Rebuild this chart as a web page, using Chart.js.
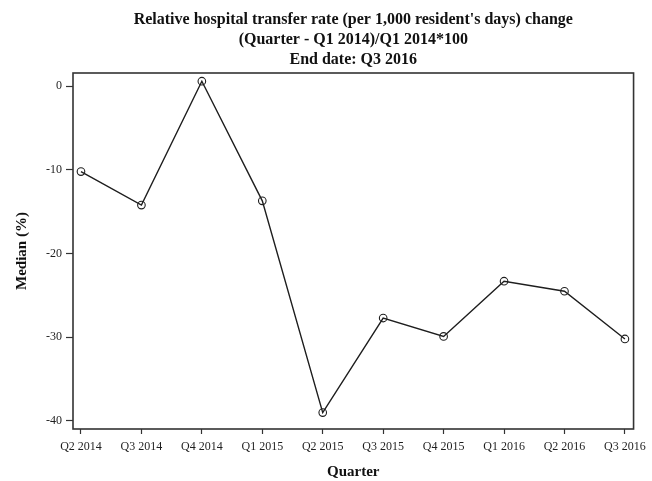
<!DOCTYPE html>
<html>
<head>
<meta charset="utf-8">
<script src="https://cdn.jsdelivr.net/npm/chart.js@4/dist/chart.umd.min.js"></script>
<style>
  html, body { margin: 0; padding: 0; background: #fff; }
  #wrap { width: 652px; height: 481px; }
</style>
</head>
<body>
<div id="wrap"><canvas id="chart" width="652" height="481"></canvas></div>
<script>
// Quarters on the x axis
const quarters = ['Q2 2014', 'Q3 2014', 'Q4 2014', 'Q1 2015', 'Q2 2015',
                  'Q3 2015', 'Q4 2015', 'Q1 2016', 'Q2 2016', 'Q3 2016'];
// Median relative change (%) of hospital transfer rate versus Q1 2014
const medianChange = [-10.2, -14.2, 0.6, -13.7, -39.0, -27.7, -29.9, -23.3, -24.5, -30.2];
// Labelled y ticks
const yTicks = [0, -10, -20, -30, -40];
const titleLines = [
  "Relative hospital transfer rate (per 1,000 resident's days) change",
  '(Quarter - Q1 2014)/Q1 2014*100',
  'End date: Q3 2016'
];

const SERIF = '"Liberation Serif", "Times New Roman", serif';
const INK = '#1e1e1e';

const points = quarters.map((q, i) => ({ x: i, y: medianChange[i] }));

// Three-line heading centred over the plot, plus the box around the plot area
const framePlugin = {
  id: 'frameAndHeading',
  afterDraw(chart) {
    const { ctx, chartArea: a } = chart;
    ctx.save();
    ctx.strokeStyle = '#333';
    ctx.lineWidth = 1.6;
    ctx.strokeRect(a.left, a.top, a.right - a.left, a.bottom - a.top);
    ctx.fillStyle = '#111';
    ctx.font = 'bold 16px ' + SERIF;
    ctx.textAlign = 'center';
    ctx.textBaseline = 'middle';
    const cx = (a.left + a.right) / 2;
    const ys = [20, 40, 60];
    titleLines.forEach((t, i) => ctx.fillText(t, cx, ys[i]));
    ctx.restore();
  }
};

new Chart(document.getElementById('chart'), {
  type: 'line',
  data: {
    datasets: [{
      data: points,
      borderColor: INK,
      borderWidth: 1.4,
      pointRadius: 3.8,
      pointHoverRadius: 3.8,
      pointBorderWidth: 1.1,
      pointBorderColor: INK,
      pointBackgroundColor: 'rgba(0,0,0,0)',
      tension: 0,
      fill: false
    }]
  },
  options: {
    responsive: false,
    animation: false,
    devicePixelRatio: 1,
    layout: { padding: { top: 73, right: 16, left: 0, bottom: 0 } },
    plugins: {
      legend: { display: false },
      tooltip: { enabled: false },
      title: { display: false }
    },
    scales: {
      x: {
        type: 'linear',
        min: -0.132,
        max: 9.143,
        afterBuildTicks(scale) {
          scale.ticks = quarters.map((q, i) => ({ value: i }));
        },
        afterFit(scale) { scale.height = 52; },
        border: { display: false },
        grid: {
          drawOnChartArea: false,
          drawTicks: true,
          tickLength: 5,
          tickColor: '#333',
          tickWidth: 1.2
        },
        ticks: {
          autoSkip: false,
          maxRotation: 0,
          padding: 6,
          color: INK,
          font: { family: SERIF, size: 12 },
          callback: (v) => quarters[v]
        },
        title: {
          display: true,
          text: 'Quarter',
          color: '#111',
          font: { family: SERIF, size: 15, weight: 'bold' },
          padding: { top: 0, bottom: 0 }
        }
      },
      y: {
        type: 'linear',
        min: -40.96,
        max: 1.58,
        afterBuildTicks(scale) {
          scale.ticks = yTicks.map(v => ({ value: v }));
        },
        afterFit(scale) { scale.width = 73; },
        border: { display: false },
        grid: {
          drawOnChartArea: false,
          drawTicks: true,
          tickLength: 7,
          tickColor: '#333',
          tickWidth: 1.2
        },
        ticks: {
          padding: 4,
          color: INK,
          font: { family: SERIF, size: 12 }
        },
        title: {
          display: true,
          text: 'Median (%)',
          color: '#111',
          font: { family: SERIF, size: 15, weight: 'bold' },
          padding: { top: 13, bottom: 0 }
        }
      }
    }
  },
  plugins: [framePlugin]
});
</script>
</body>
</html>
